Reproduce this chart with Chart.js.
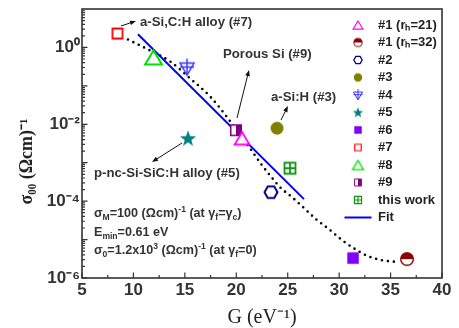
<!DOCTYPE html>
<html>
<head>
<meta charset="utf-8">
<script src="https://cdn.jsdelivr.net/npm/chart.js@4.4.1/dist/chart.umd.min.js"></script>
<style>
html,body{margin:0;padding:0;background:#fff;}
#wrap{width:459px;height:328px;position:relative;}
</style>
</head>
<body>
<div id="wrap"><canvas id="c" width="459" height="328"></canvas></div>
<script>
// ---------------- data ----------------
const seriesNames = ['#1 (rₕ=21)', '#1 (rₕ=32)', '#2', '#3', '#4', '#5', '#6', '#7', '#8', '#9', 'this work'];
const seriesG     = [20.56, 36.6, 23.37, 23.96, 15.21, 15.31, 31.35, 8.45, 11.95, 19.97, 25.22];
const seriesSigma = [0.0043, 3.1e-6, 1.71e-4, 0.0079, 0.30, 0.0043, 3.3e-6, 2.3, 0.55, 0.0070, 7.2e-4];

const fitG     = [10.44, 26.58];
const fitSigma = [2.2, 1.13e-4];

const modelG     = [9.47, 11.61, 13.56, 15.50, 17.44, 19.19, 20.46, 21.33, 22.50, 23.28, 24.25, 25.42, 26.39, 27.75, 29.11, 30.28, 31.54, 32.81, 34.17, 35.72];
const modelSigma = [1.61, 0.836, 0.433, 0.157, 0.0533, 0.0143, 0.00488, 0.00238, 8.6e-4, 4.7e-4, 2.31e-4, 1.27e-4, 7.4e-5, 3.4e-5, 1.77e-5, 9.7e-6, 5.7e-6, 3.7e-6, 2.9e-6, 2.6e-6];

const xTickValues = [5, 10, 15, 20, 25, 30, 35, 40];
const xTickLabels = ['5', '10', '15', '20', '25', '30', '35', '40'];
const yTickValues = [1e-6, 1e-5, 1e-4, 1e-3, 1e-2, 1e-1, 1];
const yTickLabels = ['10⁻⁶', '', '10⁻⁴', '', '10⁻²', '', '10⁰'];

// ---------------- styles ----------------
const markerTypes  = ['triUp', 'halfCircle', 'hexagon', 'circle', 'triDownCross', 'star', 'square', 'squareOpen', 'triUp', 'squareHalf', 'squareGrid'];
const markerColors = ['#ff00ff', '#8b0000', '#000080', '#808000', '#3333ff', '#008080', '#8000ff', '#ff0000', '#00e000', '#800080', '#119911'];
const markerScales = [1, 1, 1, 1, 1, 1, 1, 1, 1.12, 1, 1];

function makeMarker(type, color, k) {
  const S = Math.max(10, Math.round(24 * k));
  const c = document.createElement('canvas');
  c.width = S; c.height = S;
  const g = c.getContext('2d');
  const cx = S / 2, cy = S / 2;
  g.strokeStyle = color; g.fillStyle = color;
  g.lineJoin = 'miter';
  g.lineWidth = Math.max(1.1, 1.8 * k);
  g.beginPath();
  if (type === 'triUp') {
    const w = 7.5 * k, h = 12.5 * k;
    g.moveTo(cx, cy - h / 2); g.lineTo(cx + w, cy + h / 2); g.lineTo(cx - w, cy + h / 2); g.closePath();
    g.fillStyle = '#fff'; g.fill(); g.stroke();
  } else if (type === 'halfCircle') {
    const r = 6.3 * k;
    g.arc(cx, cy, r, 0, Math.PI * 2); g.fillStyle = '#fff'; g.fill();
    g.beginPath(); g.arc(cx, cy, r, Math.PI, Math.PI * 2); g.closePath(); g.fillStyle = color; g.fill();
    g.beginPath(); g.arc(cx, cy, r, 0, Math.PI * 2); g.lineWidth = Math.max(1, 1.4 * k); g.stroke();
  } else if (type === 'hexagon') {
    const r = 6.5 * k;
    for (let i = 0; i < 6; i++) {
      const a = i * Math.PI / 3;
      const px = cx + r * Math.cos(a), py = cy + r * Math.sin(a);
      if (i === 0) g.moveTo(px, py); else g.lineTo(px, py);
    }
    g.closePath(); g.fillStyle = '#fff'; g.fill(); g.lineWidth = Math.max(1.2, 2 * k); g.stroke();
  } else if (type === 'circle') {
    g.arc(cx, cy, 6.5 * k, 0, Math.PI * 2); g.fill();
  } else if (type === 'triDownCross') {
    const w = 7 * k;
    g.lineWidth = Math.max(1, 1.4 * k);
    g.moveTo(cx - w, cy - 4.5 * k); g.lineTo(cx + w, cy - 4.5 * k); g.lineTo(cx, cy + 7.5 * k); g.closePath();
    g.fillStyle = '#fff'; g.fill(); g.stroke();
    g.beginPath();
    g.moveTo(cx, cy - 9 * k); g.lineTo(cx, cy + 7.5 * k);
    g.moveTo(cx - w, cy - 0.5 * k); g.lineTo(cx + w, cy - 0.5 * k);
    g.stroke();
  } else if (type === 'star') {
    const ro = 8.5 * k, ri = 3.5 * k;
    for (let i = 0; i < 10; i++) {
      const r = i % 2 === 0 ? ro : ri;
      const a = -Math.PI / 2 + i * Math.PI / 5;
      const px = cx + r * Math.cos(a), py = cy + 0.6 * k + r * Math.sin(a);
      if (i === 0) g.moveTo(px, py); else g.lineTo(px, py);
    }
    g.closePath(); g.fill();
  } else if (type === 'square') {
    const s = 11.5 * k;
    g.rect(cx - s / 2, cy - s / 2, s, s); g.fill();
  } else if (type === 'squareOpen') {
    const s = 10 * k;
    g.rect(cx - s / 2, cy - s / 2, s, s); g.fillStyle = '#fff'; g.fill(); g.stroke();
  } else if (type === 'squareHalf') {
    const s = 10.5 * k;
    g.rect(cx - s / 2, cy - s / 2, s, s); g.fillStyle = '#fff'; g.fill();
    g.fillStyle = color; g.fillRect(cx, cy - s / 2, s / 2, s);
    g.lineWidth = Math.max(1, 1.5 * k); g.stroke();
  } else if (type === 'squareGrid') {
    const s = 11 * k;
    g.rect(cx - s / 2, cy - s / 2, s, s); g.fillStyle = '#fff'; g.fill();
    g.moveTo(cx, cy - s / 2); g.lineTo(cx, cy + s / 2);
    g.moveTo(cx - s / 2, cy); g.lineTo(cx + s / 2, cy);
    g.lineWidth = Math.max(1.2, 1.8 * k); g.stroke();
  }
  return c;
}

const plotMarkers = markerTypes.map((t, i) => makeMarker(t, markerColors[i], markerScales[i]));
const legendMarkers = markerTypes.map((t, i) => makeMarker(t, markerColors[i], 0.65 * markerScales[i]));

const datasets = seriesNames.map((name, i) => ({
  label: name,
  data: [{ x: seriesG[i], y: seriesSigma[i] }],
  pointStyle: plotMarkers[i],
  pointRadius: 7,
  pointHoverRadius: 7,
  showLine: false,
  order: 1
}));
datasets.push({
  label: 'Fit', type: 'line', showLine: true,
  data: fitG.map((g, i) => ({ x: g, y: fitSigma[i] })),
  borderColor: '#0000ff', borderWidth: 2, pointRadius: 0, fill: false, order: 5
});
datasets.push({
  label: 'model', type: 'line', showLine: true,
  data: modelG.map((g, i) => ({ x: g, y: modelSigma[i] })),
  borderColor: '#000', borderWidth: 2.6, borderDash: [0, 6], borderCapStyle: 'round',
  pointRadius: 0, fill: false, tension: 0.4, cubicInterpolationMode: 'monotone', order: 6
});

// ---------------- rich text helper ----------------
const SANS = "'Liberation Sans', Arial, sans-serif";
function richText(ctx, x, y, parts, size) {
  ctx.textBaseline = 'middle';
  ctx.textAlign = 'left';
  let cx = x;
  for (const [t, kind] of parts) {
    let fs = size, dy = 0;
    if (kind === 'sub') { fs = size * 0.68; dy = size * 0.32; }
    if (kind === 'sup') { fs = size * 0.68; dy = -size * 0.38; }
    ctx.font = 'bold ' + fs + 'px ' + SANS;
    ctx.fillText(t, cx, y + dy);
    cx += ctx.measureText(t).width;
  }
}
function arrow(ctx, x1, y1, x2, y2) {
  const a = Math.atan2(y2 - y1, x2 - x1), L = 6, W = 2.3;
  ctx.beginPath(); ctx.moveTo(x1, y1); ctx.lineTo(x2 - L * 0.8 * Math.cos(a), y2 - L * 0.8 * Math.sin(a));
  ctx.lineWidth = 1; ctx.stroke();
  ctx.beginPath();
  ctx.moveTo(x2, y2);
  ctx.lineTo(x2 - L * Math.cos(a) + W * Math.sin(a), y2 - L * Math.sin(a) - W * Math.cos(a));
  ctx.lineTo(x2 - L * Math.cos(a) - W * Math.sin(a), y2 - L * Math.sin(a) + W * Math.cos(a));
  ctx.closePath(); ctx.fill();
}

const LEG_FS = 13, LEG_PAD = 4.5;
const decor = {
  id: 'decor',
  afterLayout(chart) {
    const lg = chart.legend;
    if (!lg) return;
    lg.left = 344.5 - LEG_PAD;
    lg.top = 25 - LEG_FS / 2 - LEG_PAD;
    lg.right = lg.left + Math.max(lg.width, 120);
    lg.height = 260;
    lg.bottom = lg.top + lg.height;
  },
  afterDatasetsDraw(chart) {
    const ctx = chart.ctx, a = chart.chartArea;
    const xs = chart.scales.x, ys = chart.scales.y;
    ctx.save();
    // frame
    ctx.strokeStyle = '#333'; ctx.lineWidth = 1.6;
    ctx.strokeRect(a.left, a.top, a.right - a.left, a.bottom - a.top);
    // inward ticks
    ctx.lineWidth = 1.2;
    ctx.beginPath();
    xTickValues.forEach((v, i) => {
      const px = xs.getPixelForValue(v);
      ctx.moveTo(px, a.bottom); ctx.lineTo(px, a.bottom - 5.5);
      if (i < xTickValues.length - 1) {
        const pm = xs.getPixelForValue((v + xTickValues[i + 1]) / 2);
        ctx.moveTo(pm, a.bottom); ctx.lineTo(pm, a.bottom - 3);
      }
    });
    yTickValues.forEach((v) => {
      const py = ys.getPixelForValue(v);
      ctx.moveTo(a.left, py); ctx.lineTo(a.left + 5.5, py);
      for (let m = 2; m <= 9; m++) {
        const mv = v * m;
        if (mv > ys.max) break;
        const pm = ys.getPixelForValue(mv);
        ctx.moveTo(a.left, pm); ctx.lineTo(a.left + 3, pm);
      }
    });
    ctx.stroke();
    // annotations
    ctx.fillStyle = '#333'; ctx.strokeStyle = '#111';
    const fl = 13.2;
    richText(ctx, 140, 22, [['a-Si,C:H alloy (#7)', 'n']], fl);
    richText(ctx, 223, 54, [['Porous Si (#9)', 'n']], fl);
    richText(ctx, 271, 97, [['a-Si:H (#3)', 'n']], fl);
    richText(ctx, 94, 173, [['p-nc-Si-SiC:H alloy (#5)', 'n']], fl);
    ctx.fillStyle = '#111';
    arrow(ctx, 121, 26, 136, 21);
    arrow(ctx, 237, 118, 249, 70);
    arrow(ctx, 281, 120, 288, 106);
    arrow(ctx, 182, 143, 152, 162);
    ctx.fillStyle = '#333';
    const fs = 12.6;
    richText(ctx, 94, 214, [['σ', 'n'], ['M', 'sub'], ['=100 (Ωcm)', 'n'], ['-1', 'sup'], [' (at γ', 'n'], ['f', 'sub'], ['=γ', 'n'], ['c', 'sub'], [')', 'n']], fs);
    richText(ctx, 94, 233, [['E', 'n'], ['min', 'sub'], ['=0.61 eV', 'n']], fs);
    richText(ctx, 94, 251, [['σ', 'n'], ['0', 'sub'], ['=1.2x10', 'n'], ['3', 'sup'], [' (Ωcm)', 'n'], ['-1', 'sup'], [' (at γ', 'n'], ['f', 'sub'], ['=0)', 'n']], fs);
    ctx.restore();
  }
};

new Chart(document.getElementById('c'), {
  type: 'scatter',
  data: { datasets },
  plugins: [decor],
  options: {
    responsive: false,
    animation: false,
    devicePixelRatio: 1,
    layout: { padding: { left: 0, top: 9, right: 17, bottom: 0 } },
    plugins: {
      tooltip: { enabled: false },
      legend: {
        position: 'chartArea',
        align: 'start',
        fullSize: false,
        labels: {
          usePointStyle: true,
          pointStyleWidth: 27,
          boxHeight: 12,
          padding: LEG_PAD,
          color: '#222',
          font: { family: SANS, size: LEG_FS, weight: 'bold' },
          generateLabels: () => {
            const items = seriesNames.map((n, i) => ({
              text: n, pointStyle: legendMarkers[i], fillStyle: markerColors[i], strokeStyle: markerColors[i],
              lineWidth: 0, fontColor: '#222', hidden: false, datasetIndex: i
            }));
            items.push({ text: 'Fit', pointStyle: 'line', fillStyle: '#0000ff', strokeStyle: '#0000ff', lineWidth: 2, fontColor: '#222', hidden: false, datasetIndex: seriesNames.length });
            return items;
          }
        }
      }
    },
    scales: {
      x: {
        type: 'linear', min: 5, max: 40,
        afterBuildTicks: (s) => { s.ticks = xTickValues.map(v => ({ value: v })); },
        afterFit: (s) => { s.height = 50; },
        grid: { display: false, drawTicks: false },
        border: { display: false },
        ticks: {
          autoSkip: false, maxRotation: 0, padding: 2, color: '#333',
          font: { family: SANS, size: 17, weight: 'bold' },
          callback: (v) => { const i = xTickValues.indexOf(v); return i >= 0 ? xTickLabels[i] : ''; }
        },
        title: {
          display: true, text: 'G (eV⁻¹)', color: '#222',
          font: { family: "'Liberation Serif', 'Times New Roman', serif", size: 20, lineHeight: 1 },
          padding: { top: 0, bottom: 0 }
        }
      },
      y: {
        type: 'logarithmic', min: 1e-6, max: 10,
        afterBuildTicks: (s) => { s.ticks = yTickValues.map(v => ({ value: v })); },
        afterFit: (s) => { s.width = 82; },
        grid: { display: false, drawTicks: false },
        border: { display: false },
        ticks: {
          autoSkip: false, padding: 2, color: '#333',
          font: { family: SANS, size: 17, weight: 'bold', lineHeight: 0.8 },
          callback: (v) => {
            const i = yTickValues.findIndex(t => Math.abs(Math.log10(t) - Math.log10(v)) < 1e-6);
            return i >= 0 ? yTickLabels[i] : '';
          }
        },
        title: {
          display: true, text: 'σ₀₀ (Ωcm)⁻¹        ', color: '#222',
          font: { family: "'Liberation Serif', 'Times New Roman', serif", size: 18, weight: 'bold', lineHeight: 1 },
          padding: { top: 18, bottom: 0 }
        }
      }
    }
  }
});
</script>
</body>
</html>
